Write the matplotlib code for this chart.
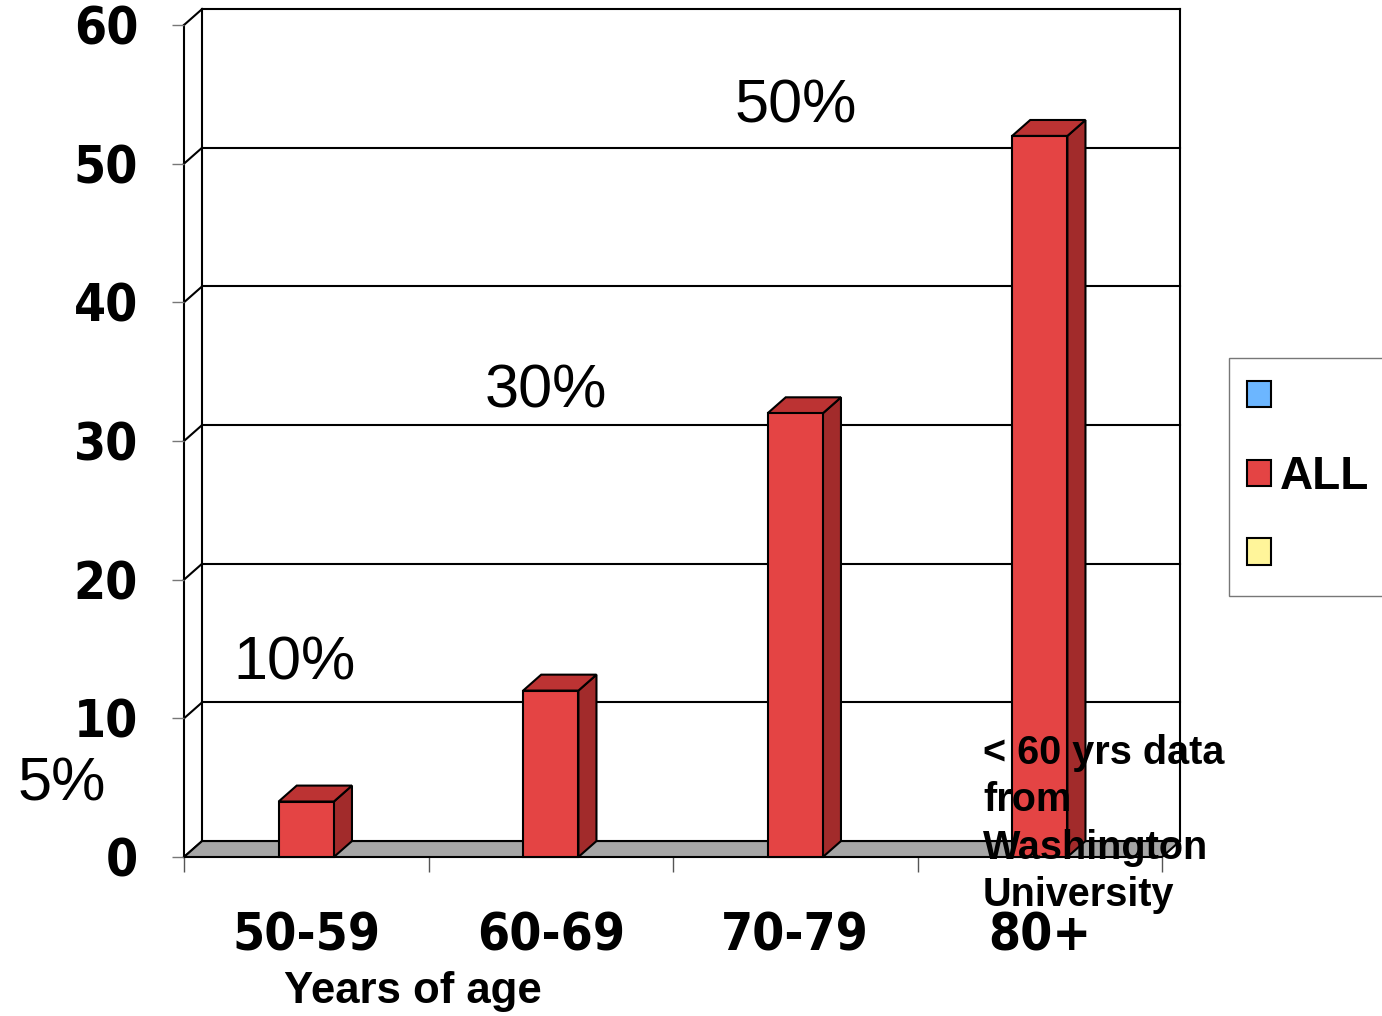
import matplotlib.pyplot as plt
from matplotlib.patches import Polygon, Rectangle, Patch

# data
age_groups = ["50-59", "60-69", "70-79", "80+"]
prevalence = [4, 12, 32, 52]
y_ticks = [0, 10, 20, 30, 40, 50, 60]
series_names = ["", "ALL", ""]
series_colors = ["#6cb6ff", "#e44444", "#fff59a"]

pct_labels = ["5%", "10%", "30%", "50%"]
pct_x = [-1.0, -0.05, 0.98, 2.0]
pct_y = [4.1, 12.8, 32.4, 53.0]
source_note = "< 60 yrs data\nfrom\nWashington\nUniversity"

# pseudo-3d look
DX, DY = 0.074, 1.15      # depth offset in data units
HW = 0.113                # half bar width
FRONT, TOP, SIDE = "#e44444", "#bc3333", "#a22b2b"
FLOOR = "#a6a6a6"
LW = 1.5

narrow = ["DejaVu Sans Condensed", "Liberation Sans Narrow", "DejaVu Sans"]
sans = ["Liberation Sans", "DejaVu Sans"]

fig = plt.figure(figsize=(13.82, 10.16), dpi=100)
ax = fig.add_axes([184 / 1382, 159 / 1016, 978 / 1382, 832 / 1016])
ax.set_xlim(-0.5, 3.5)
ax.set_ylim(0, 60)
ax.set_facecolor("none")
for sp in ax.spines.values():
    sp.set_visible(False)

x0, x1 = -0.5, 3.5
ymax = y_ticks[-1]

# back wall and left side lines
for k in y_ticks:
    ax.plot([x0 + DX, x1 + DX], [k + DY, k + DY], color="k", lw=LW, clip_on=False, zorder=1)
    ax.plot([x0, x0 + DX], [k, k + DY], color="k", lw=LW, clip_on=False, zorder=1)
ax.plot([x0 + DX] * 2, [DY, ymax + DY], color="k", lw=LW, clip_on=False, zorder=1)
ax.plot([x1 + DX] * 2, [DY, ymax + DY], color="k", lw=LW, clip_on=False, zorder=1)
ax.plot([x0, x0], [0, ymax], color="k", lw=LW, clip_on=False, zorder=1)

# floor
floor = Polygon([(x0, 0), (x1, 0), (x1 + DX, DY), (x0 + DX, DY)], closed=True,
                facecolor=FLOOR, edgecolor="k", lw=LW, clip_on=False, zorder=2)
ax.add_patch(floor)

# bars
for i, v in enumerate(prevalence):
    l, r = i - HW, i + HW
    ax.add_patch(Polygon([(r, 0), (r + DX, DY), (r + DX, v + DY), (r, v)], closed=True,
                         facecolor=SIDE, edgecolor="k", lw=LW, clip_on=False, zorder=3))
    ax.add_patch(Polygon([(l, v), (r, v), (r + DX, v + DY), (l + DX, v + DY)], closed=True,
                         facecolor=TOP, edgecolor="k", lw=LW, clip_on=False, zorder=3))
    ax.add_patch(Rectangle((l, 0), 2 * HW, v, facecolor=FRONT, edgecolor="k", lw=LW,
                           clip_on=False, zorder=3))

# ticks
ax.set_yticks(y_ticks)
ax.set_yticklabels([str(k) for k in y_ticks])
ax.tick_params(axis="y", direction="out", length=9, width=1, color="#777", pad=24,
               labelsize=37)
ax.set_xticks([x0 + j for j in range(len(age_groups) + 1)])
ax.set_xticklabels([])
ax.set_xticks(range(len(age_groups)), minor=True)
ax.set_xticklabels(age_groups, minor=True)
ax.tick_params(axis="x", which="major", direction="out", length=11, width=1, color="#555")
ax.tick_params(axis="x", which="minor", length=0, pad=39, labelsize=37)
for lbl in ax.get_yticklabels() + ax.get_xticklabels(minor=True):
    lbl.set_family(narrow)
    lbl.set_stretch("condensed")
    lbl.set_weight("bold")

fig.text(413 / 1382, 1 - 992 / 1016, "Years of age", ha="center", va="center",
         fontsize=31.5, weight="bold", family=sans)

# slide annotations
for txt, px, py in zip(pct_labels, pct_x, pct_y):
    ax.text(px, py, txt, ha="center", va="baseline", fontsize=44, family=sans,
            clip_on=False, zorder=5)
ax.text(2.768, 8.9, source_note, ha="left", va="top", fontsize=28.5, weight="bold",
        family=sans, linespacing=1.32, clip_on=False, zorder=5)

# legend
handles = [Patch(facecolor=c, edgecolor="k", lw=1.5) for c in series_colors]
leg = fig.legend(handles, series_names, loc="upper left",
                 bbox_to_anchor=(1229 / 1382, 1 - 358 / 1016), borderaxespad=0,
                 prop={"family": sans, "weight": "bold", "size": 33},
                 handlelength=0.52, handleheight=0.52, handletextpad=0.2,
                 borderpad=0.4, labelspacing=0.76, fancybox=False, framealpha=1)
leg.get_frame().set_edgecolor("#777")
leg.get_frame().set_linewidth(1)

fig.savefig("out.png", dpi=100)
